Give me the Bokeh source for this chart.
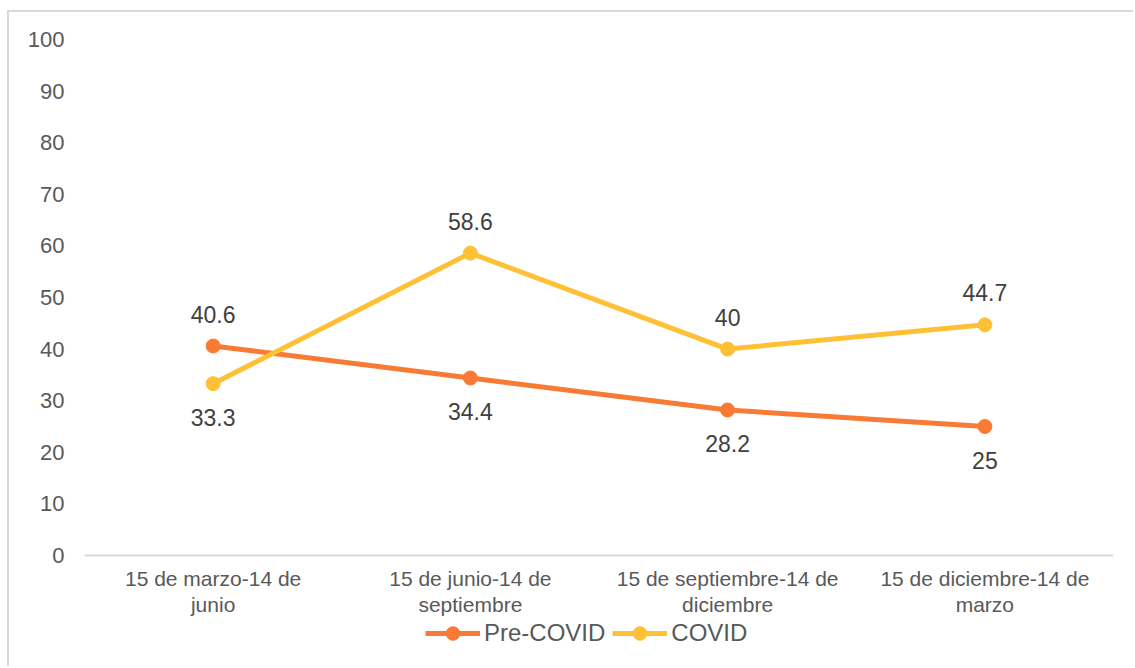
from bokeh.plotting import figure
from bokeh.models import Range1d, FixedTicker, Legend, LegendItem, ColumnDataSource, Span
from bokeh.core.properties import value
from bokeh.embed import file_html
from bokeh.resources import INLINE

# ---- data ----
categories = ["15 de marzo-14 de\njunio", "15 de junio-14 de\nseptiembre",
              "15 de septiembre-14 de\ndiciembre", "15 de diciembre-14 de\nmarzo"]
pre_covid = [40.6, 34.4, 28.2, 25]
covid = [33.3, 58.6, 40, 44.7]
y_ticks = [0, 10, 20, 30, 40, 50, 60, 70, 80, 90, 100]

FONT = "Liberation Sans"
ORANGE = "#F97A35"
YELLOW = "#FEC135"
TICK_COLOR = "#595959"
LABEL_COLOR = "#404040"

# page layout (pixels)
OX, OY, BW = 7, 10, 2          # chart border offset and width
TOP_PX, ZERO_PX, BOT_PX = 39, 555, 662   # y=100, y=0, frame bottom on page
LEFT_PX, RIGHT_PX = 84, 1113

W, H = 1135 - OX - BW, 668 - OY - BW
y_min = -100.0 * (BOT_PX - ZERO_PX) / (ZERO_PX - TOP_PX)

p = figure(width=W, height=H, output_backend="svg", toolbar_location=None,
           x_range=Range1d(-0.5, 3.5), y_range=Range1d(y_min, 100),
           min_border_left=LEFT_PX - OX - BW, min_border_right=1135 - RIGHT_PX,
           min_border_top=TOP_PX - OY - BW, min_border_bottom=668 - BOT_PX)
p.styles = {"margin-left": f"{OX}px", "margin-top": f"{OY}px",
            "border-left": f"{BW}px solid #d9d9d9", "border-top": f"{BW}px solid #d9d9d9"}
p.outline_line_color = None
p.grid.visible = False
p.background_fill_color = "white"
p.border_fill_color = "white"

# y axis
p.yaxis.ticker = FixedTicker(ticks=y_ticks)
p.yaxis.axis_line_color = None
p.yaxis.major_tick_line_color = None
p.yaxis.minor_tick_line_color = None
p.yaxis.major_tick_out = 0
p.yaxis.major_label_standoff = 20
p.yaxis.major_label_text_font = FONT
p.yaxis.major_label_text_font_size = "22px"
p.yaxis.major_label_text_color = TICK_COLOR

# x axis: baseline at 0 with category labels beneath
p.xaxis.visible = False
p.add_layout(Span(location=0, dimension="width", line_color="#d9d9d9", line_width=2))
xs = list(range(len(categories)))
p.text(x=xs, y=[0] * len(xs), text=categories, y_offset=11,
       text_align="center", text_baseline="top", text_line_height=1.17,
       text_font=value(FONT), text_font_size="21px", text_color=TICK_COLOR)

# series
src_pre = ColumnDataSource(dict(x=xs, y=pre_covid, t=[str(v) for v in pre_covid]))
src_cov = ColumnDataSource(dict(x=xs, y=covid, t=[str(v) for v in covid]))

l1 = p.line("x", "y", source=src_pre, line_color=ORANGE, line_width=5)
m1 = p.scatter("x", "y", source=src_pre, size=14, fill_color=ORANGE, line_color=ORANGE)
l2 = p.line("x", "y", source=src_cov, line_color=YELLOW, line_width=5)
m2 = p.scatter("x", "y", source=src_cov, size=14, fill_color=YELLOW, line_color=YELLOW)

# data labels: above when the series is the higher one at that point
def offsets(a, b):
    return [-32 if va >= vb else 34 for va, vb in zip(a, b)]

src_pre.data["off"] = offsets(pre_covid, covid)
src_cov.data["off"] = offsets(covid, pre_covid)
for src in (src_pre, src_cov):
    p.text("x", "y", text="t", source=src, y_offset="off",
           text_align="center", text_baseline="middle",
           text_font=value(FONT), text_font_size="23px", text_color=LABEL_COLOR)

legend = Legend(items=[LegendItem(label="Pre-COVID", renderers=[l1, m1]),
                       LegendItem(label="COVID", renderers=[l2, m2])],
                orientation="horizontal", location=(425 - LEFT_PX, BOT_PX - 650),
                glyph_width=55, glyph_height=34, label_height=34,
                label_standoff=4, spacing=7, padding=0, margin=0,
                label_text_font=FONT, label_text_font_size="24px",
                label_text_color=TICK_COLOR, border_line_color=None,
                background_fill_alpha=0)
p.add_layout(legend, "center")

open("out.html", "w").write(file_html(p, INLINE))
